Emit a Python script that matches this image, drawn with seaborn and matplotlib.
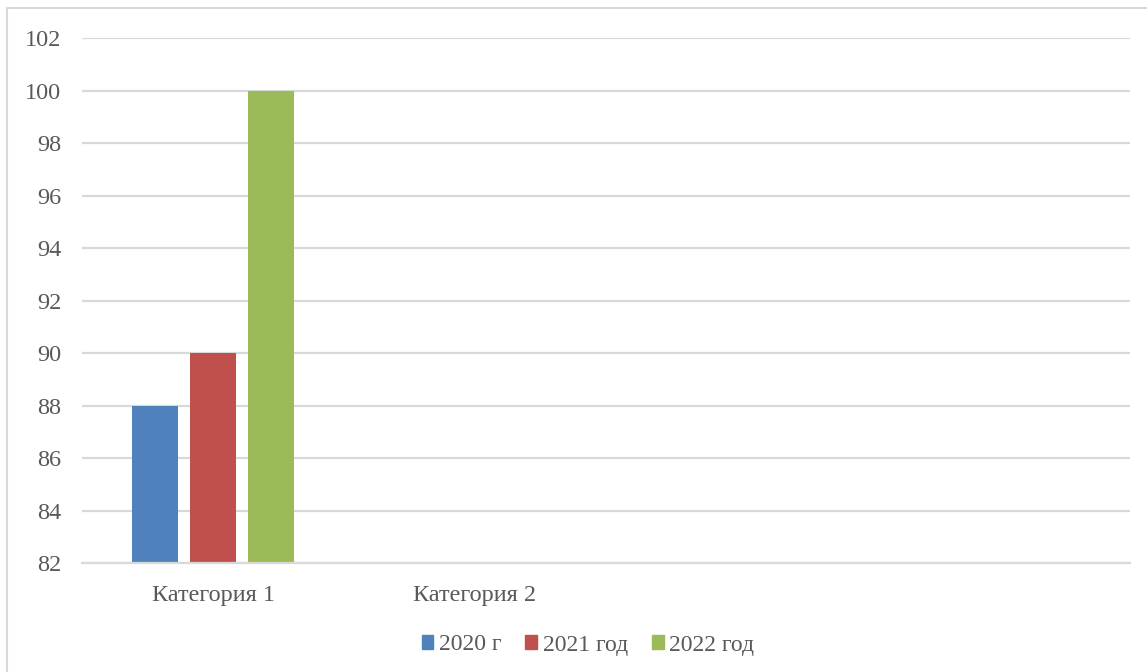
import matplotlib
matplotlib.use("Agg")
import matplotlib.pyplot as plt
import matplotlib.patches as mpatches
import numpy as np
import pandas as pd
import seaborn as sns

# ----------------------------------------------------------------------
# Data
# ----------------------------------------------------------------------
categories = ["Категория 1", "Категория 2"]
years = ["2020 г", "2021 год", "2022 год"]
values_cat1 = [88, 90, 100]
values_cat2 = [np.nan, np.nan, np.nan]   # no bars drawn for category 2
colors = ["#4F81BD", "#C0504D", "#9BBB59"]

y_min, y_max, y_step = 82, 102, 2
n_slots = 4   # the category axis has room for four groups

rows = []
for cat, vals in zip(categories, [values_cat1, values_cat2]):
    for yr, v in zip(years, vals):
        rows.append({"category": cat, "year": yr, "value": v})
df = pd.DataFrame(rows)

# ----------------------------------------------------------------------
# Plot
# ----------------------------------------------------------------------
sns.set_style("white")
plt.rcParams["font.family"] = ["Liberation Serif", "DejaVu Serif"]

fig = plt.figure(figsize=(11.47, 6.72), dpi=100)
ax = fig.add_axes([82 / 1147, 109 / 672, 1048 / 1147, 525 / 672])

sns.barplot(
    data=df, x="category", y="value", hue="year",
    order=categories, hue_order=years, palette=colors,
    width=0.664, gap=0.2, errorbar=None, saturation=1, ax=ax,
    legend=False, linewidth=0,
)

ax.set_ylim(y_min, y_max)
ax.set_yticks(np.arange(y_min, y_max + 1, y_step))
ax.set_xlim(-0.5, n_slots - 0.5)
ax.set_xticks(range(len(categories)))
ax.set_xticklabels(categories)
ax.set_xlabel("")
ax.set_ylabel("")

ax.yaxis.grid(True, color="#d9d9d9", linewidth=1.6)
ax.set_axisbelow(True)
for side in ["left", "right", "top"]:
    ax.spines[side].set_visible(False)
ax.spines["bottom"].set_color("#d9d9d9")
ax.spines["bottom"].set_linewidth(1.6)
ax.tick_params(axis="both", length=0, labelsize=17.5, labelcolor="#595959")
ax.tick_params(axis="y", pad=15)
ax.tick_params(axis="x", pad=16)

# legend at the bottom
handles = [mpatches.Patch(color=c, label=y) for c, y in zip(colors, years)]
leg = fig.legend(
    handles=handles, loc="center", bbox_to_anchor=(588 / 1147, 27 / 672),
    ncol=3, frameon=False, fontsize=17, handlelength=0.5, handleheight=0.5,
    handletextpad=0.25, columnspacing=1.0,
)
for t in leg.get_texts():
    t.set_color("#595959")

# outer chart border (cut off at right and bottom)
fig.patches.append(mpatches.Rectangle(
    (7 / 1147, -0.1), 2, (664 / 672) + 0.1, transform=fig.transFigure,
    fill=False, edgecolor="#d9d9d9", linewidth=1.5,
))

fig.savefig("out.png", dpi=100)
